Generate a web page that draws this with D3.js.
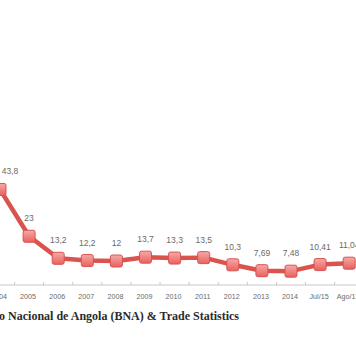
<!DOCTYPE html>
<html><head><meta charset="utf-8">
<script src="https://cdn.jsdelivr.net/npm/d3@7"></script>
<style>html,body{margin:0;padding:0;background:#fff;overflow:hidden}</style>
</head><body>
<svg id="c" width="356" height="364"></svg>
<script>
const categories = ["2004","2005","2006","2007","2008","2009","2010","2011","2012","2013","2014","Jul/15","Ago/15"];
const values = [43.8, 23, 13.2, 12.2, 12, 13.7, 13.3, 13.5, 10.3, 7.69, 7.48, 10.41, 11.04];
const valueLabels = ["43,8","23","13,2","12,2","12","13,7","13,3","13,5","10,3","7,69","7,48","10,41","11,04"];
const sourceText = "Fonte: Banco Nacional de Angola (BNA) & Trade Statistics";

const svg = d3.select("#c");
const x = d3.scalePoint().domain(categories).range([0, 349.2]);
const y = d3.scaleLinear().domain([0, 128]).range([288, 0]);
const step = x.step();
const axisY = 285;

const defs = svg.append("defs");
const g = defs.append("linearGradient").attr("id","mg").attr("x1",0).attr("y1",0).attr("x2",0).attr("y2",1);
g.append("stop").attr("offset","0%").attr("stop-color","#f7a9a7");
g.append("stop").attr("offset","100%").attr("stop-color","#e8615d");

// axis line + ticks between categories
svg.append("line").attr("x1",0).attr("x2",356).attr("y1",axisY).attr("y2",axisY)
  .attr("stroke","#c8c8c8").attr("stroke-width",1);
svg.selectAll(".tk").data(categories).enter().append("line")
  .attr("x1",d=>x(d)+step/2).attr("x2",d=>x(d)+step/2)
  .attr("y1",axisY-3).attr("y2",axisY).attr("stroke","#c8c8c8");
svg.selectAll(".xl").data(categories).enter().append("text")
  .attr("x",d=>x(d)-1).attr("y",298.5).attr("text-anchor","middle")
  .attr("font-family","Liberation Sans, Arial, sans-serif").attr("font-size",7.2)
  .attr("fill","#6a6a6a").text(d=>d);

// line
const line = d3.line().x((d,i)=>x(categories[i])).y(d=>y(d));
svg.append("path").datum(values).attr("d",line).attr("fill","none")
  .attr("stroke","#d9534f").attr("stroke-width",4.5).attr("stroke-linejoin","round");

// markers
svg.selectAll(".mk").data(values).enter().append("rect")
  .attr("x",(d,i)=>x(categories[i])-6).attr("y",d=>y(d)-6)
  .attr("width",12).attr("height",12).attr("rx",2)
  .attr("fill","url(#mg)").attr("stroke","#d9534f").attr("stroke-width",1);

// data labels
svg.selectAll(".dl").data(values).enter().append("text")
  .attr("x",(d,i)=>x(categories[i]) + (i===0 ? 10 : 0))
  .attr("y",d=>y(d)-15).attr("text-anchor","middle")
  .attr("font-family","Liberation Sans, Arial, sans-serif").attr("font-size",8.5)
  .attr("fill","#6a6a6a").text((d,i)=>valueLabels[i]);

// source
svg.append("text").attr("x",239).attr("y",320).attr("text-anchor","end")
  .attr("font-family","Liberation Serif, serif").attr("font-weight","bold").attr("font-size",12)
  .attr("fill","#2b2b2b").text(sourceText);
</script>
</body></html>
